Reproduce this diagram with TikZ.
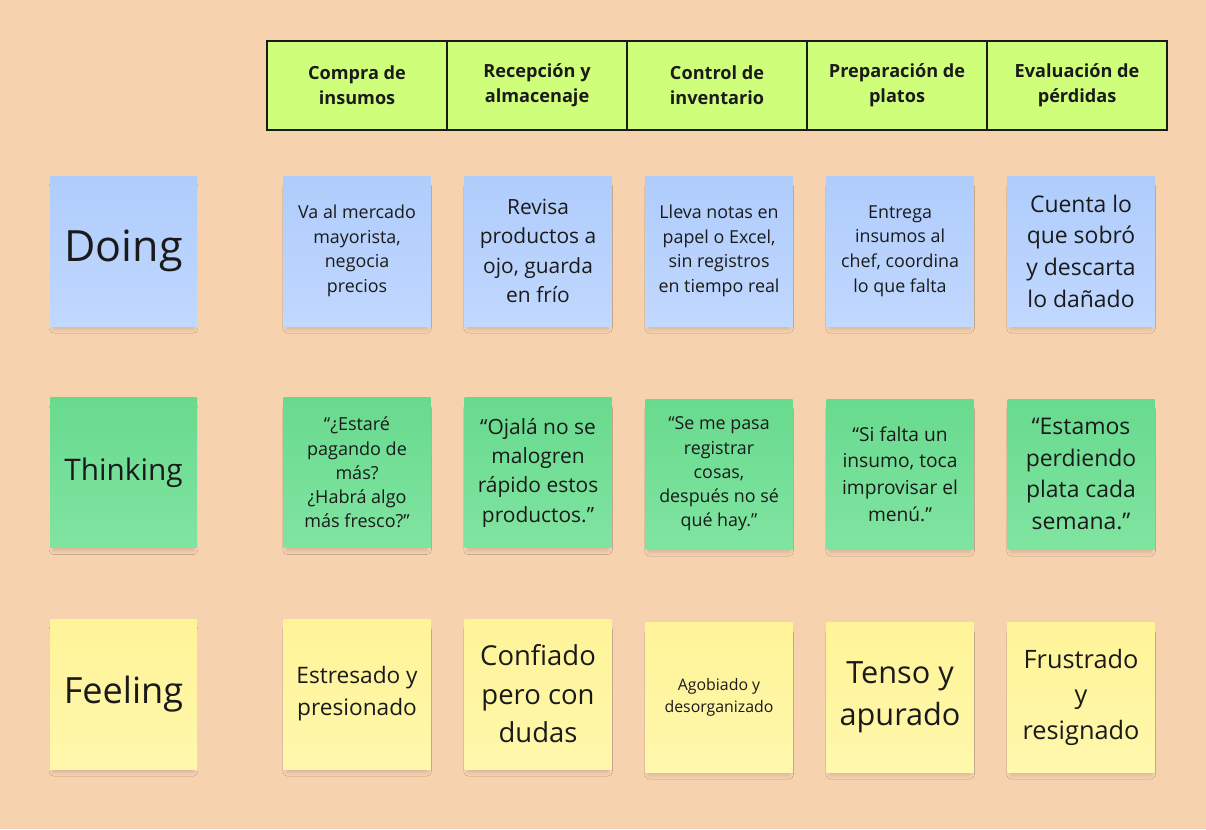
\documentclass[tikz,border=0pt]{standalone}
\usepackage{fontspec}
\setmainfont{Open Sans}
\usepackage{tikz}
\usetikzlibrary{positioning,shadows.blur}

\definecolor{peach}{RGB}{246,210,175}
\definecolor{ink}{RGB}{26,26,26}
\definecolor{lime}{RGB}{207,255,122}
\definecolor{bluetop}{RGB}{175,204,251}
\definecolor{bluebot}{RGB}{193,216,255}
\definecolor{greentop}{RGB}{104,218,142}
\definecolor{greenbot}{RGB}{128,228,161}
\definecolor{yeltop}{RGB}{255,244,152}
\definecolor{yelbot}{RGB}{255,247,172}

\newcommand\fsz[2]{\fontsize{#1}{#2}\selectfont}

\begin{document}
\begin{tikzpicture}[x=0.75pt, y=-0.75pt,
    node distance=53.25pt and 25.1pt,
    hd/.style={%
      rectangle, draw=ink, line width=1.4pt, fill=lime,
      minimum width=135pt, minimum height=66.75pt, inner sep=0pt, outer sep=0pt,
      align=center, text=ink, font=\bfseries\fsz{13.6pt}{18.75pt}
    },
    sticky/.style={%
      rectangle, minimum width=110.25pt, minimum height=112.5pt, inner sep=2pt,
      align=center, text=ink,
      blur shadow={shadow xshift=0pt, shadow yshift=-5pt, shadow scale=0.95,
        shadow opacity=16, shadow blur radius=3.5pt, shadow blur steps=8}
    },
    do/.style={sticky, top color=bluetop, bottom color=bluebot},
    th/.style={sticky, top color=greentop, bottom color=greenbot},
    fe/.style={sticky, top color=yeltop, bottom color=yelbot}
]
    \useasboundingbox (0,0) rectangle (1206,829);
    \fill[peach] (0,0) rectangle (1206,829);

    % row labels
    \node[do, font=\fsz{32.3pt}{42pt}] (doing) at (123.5,251)  {Doing};
    \node[th, font=\fsz{22.3pt}{30pt}] (thinking) [below = of doing]  {Thinking};
    \node[fe, font=\fsz{27.1pt}{36pt}] (feeling) [below = of thinking]  {Feeling};

    \node[do, font=\fsz{13.4pt}{18.4pt}] (d1) [right = 64.5pt of doing]  {Va al mercado\\mayorista,\\negocia\\precios};
    \node[do, font=\fsz{15.7pt}{22pt}] (d2) [right = of d1]  {Revisa\\productos a\\ojo, guarda\\en frío};
    \node[do, font=\fsz{13.4pt}{18.4pt}] (d3) [right = of d2]  {Lleva notas en\\papel o Excel,\\sin registros\\en tiempo real};
    \node[do, font=\fsz{13.4pt}{18.4pt}] (d4) [right = of d3]  {Entrega\\insumos al\\chef, coordina\\lo que falta};
    \node[do, font=\fsz{17.2pt}{23.8pt}] (d5) [right = of d4]  {Cuenta lo\\que sobró\\y descarta\\lo dañado};

    \node[th, font=\fsz{13.5pt}{18.2pt}] (t1) [right = 64.5pt of thinking]  {“¿Estaré\\pagando de\\más?\\¿Habrá algo\\más fresco?”};
    \node[th, font=\fsz{15.7pt}{22pt}] (t2) [right = of t1]  {“Ojalá no se\\malogren\\rápido estos\\productos.”};
    \node[th, font=\fsz{13.4pt}{18.2pt}] (t3) [right = of t2, yshift=-1.1pt]  {“Se me pasa\\registrar\\cosas,\\después no sé\\qué hay.”};
    \node[th, font=\fsz{14.4pt}{20pt}] (t4) [right = of t3]  {“Si falta un\\insumo, toca\\improvisar el\\menú.”};
    \node[th, font=\fsz{17.2pt}{23.8pt}] (t5) [right = of t4]  {“Estamos\\perdiendo\\plata cada\\semana.”};

    \node[fe, font=\fsz{17pt}{24pt}] (f1) [right = 64.5pt of feeling]  {Estresado y\\presionado};
    \node[fe, font=\fsz{20.6pt}{28.9pt}] (f2) [right = of f1]  {Confiado\\pero con\\dudas};
    \node[fe, font=\fsz{11.9pt}{16.5pt}] (f3) [right = of f2, yshift=-2.2pt]  {Agobiado y\\desorganizado};
    \node[fe, font=\fsz{23pt}{31.5pt}] (f4) [right = of f3]  {Tenso y\\apurado};
    \node[fe, font=\fsz{19pt}{26.6pt}] (f5) [right = of f4]  {Frustrado\\y\\resignado};

    % stage headers
    \node[hd] (h1) [above = 34.5pt of d1]  {Compra de\\insumos};
    \node[hd] (h2) [right = 0pt of h1]  {Recepción y\\almacenaje};
    \node[hd] (h3) [right = 0pt of h2]  {Control de\\inventario};
    \node[hd] (h4) [right = 0pt of h3]  {Preparación de\\platos};
    \node[hd] (h5) [right = 0pt of h4]  {Evaluación de\\pérdidas};

\end{tikzpicture}
\end{document}
